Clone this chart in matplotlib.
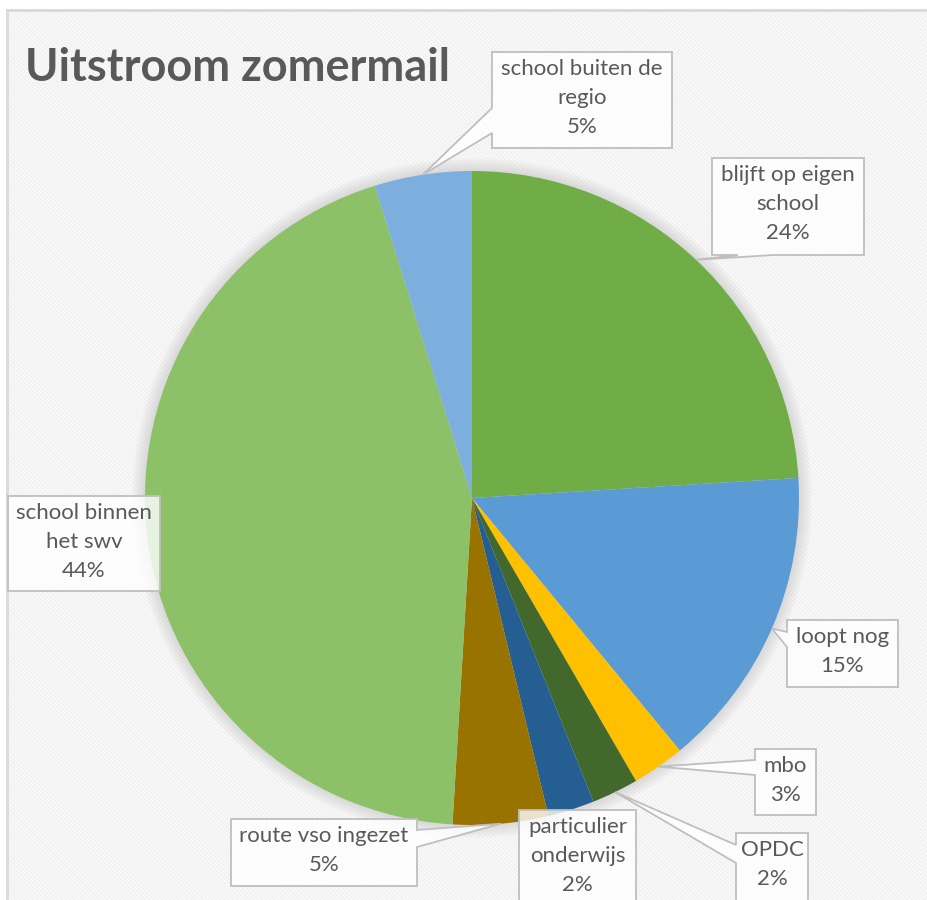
import matplotlib
matplotlib.use("Agg")
import matplotlib.pyplot as plt
from matplotlib.patches import Rectangle, Polygon, Circle
import numpy as np

plt.rcParams['font.family'] = ['Lato', 'DejaVu Sans']
plt.rcParams['hatch.linewidth'] = 1.5

W, H = 927, 900

title = "Uitstroom zomermail"
labels = ['blijft op eigen\nschool', 'loopt nog', 'mbo', 'OPDC',
          'particulier\nonderwijs', 'route vso ingezet',
          'school binnen\nhet swv', 'school buiten de\nregio']
shares = [24.0, 15.0, 2.6, 2.3, 2.3, 4.7, 44.2, 4.8]
colors = ['#70AD47', '#5B9BD5', '#FFC000', '#43682B',
          '#255E91', '#997300', '#8CC168', '#7CAFDD']

# label boxes in image pixels (x0, y0, x1, y1), pointer side, pointer base span
boxes = [
    ((712, 158, 864, 255), 'bottom', (738, 773)),
    ((787, 620, 898, 687), 'left', (632, 647)),
    ((755, 749, 816, 815), 'left', (760, 775)),
    ((736, 833, 808, 910), 'left', (845, 863)),
    ((519, 810, 636, 910), None, None),
    ((231, 819, 417, 886), 'right', (830, 847)),
    ((8, 496, 160, 591), None, None),
    ((492, 52, 672, 148), 'left', (108, 133)),
]

cx, cy, r = 472, 900 - 498, 327


def Y(y):
    return H - y


fig = plt.figure(figsize=(W / 100, H / 100), dpi=100)
ax = fig.add_axes([0, 0, 1, 1])

# hatched chart area
bg = Rectangle((8, -20), W + 20, Y(11) + 20, facecolor='white', edgecolor='#f1f1f1',
               linewidth=0, hatch='\\' * 8, zorder=0)
ax.add_patch(bg)
ax.plot([7, 7], [0, Y(10)], color='#d9d9d9', lw=2, zorder=1)
ax.plot([7, W], [Y(10), Y(10)], color='#d9d9d9', lw=2, zorder=1)

# soft shadow around pie
for k in range(1, 14):
    ax.add_patch(Circle((cx, cy), r + k, facecolor='#9a9a9a', edgecolor='none',
                        alpha=0.025, zorder=1))

wedges, _ = ax.pie(shares, colors=colors, startangle=90, counterclock=False,
                   center=(cx, cy), radius=r, frame=True,
                   wedgeprops=dict(linewidth=0, zorder=2))

total = sum(shares)
for w, lab, val, (bx, side, base) in zip(wedges, labels, shares, boxes):
    x0, y0, x1, y1 = bx
    ang = np.deg2rad((w.theta1 + w.theta2) / 2)
    tip = (cx + r * np.cos(ang), cy + r * np.sin(ang))
    pts = [(x0, Y(y0)), (x1, Y(y0))]
    if side == 'right':
        pts += [(x1, Y(base[0])), tip, (x1, Y(base[1]))]
    pts += [(x1, Y(y1))]
    if side == 'bottom':
        pts += [(base[1], Y(y1)), tip, (base[0], Y(y1))]
    pts += [(x0, Y(y1))]
    if side == 'left':
        pts += [(x0, Y(base[1])), tip, (x0, Y(base[0]))]
    ax.add_patch(Polygon(pts, closed=True, facecolor=(1, 1, 1, 0.8),
                         edgecolor='#bfbfbf', linewidth=1.3, zorder=3))
    pct = round(val / total * 100)
    ax.text((x0 + x1) / 2, Y(y0 + 7), f"{lab}\n{pct}%", ha='center', va='top',
            fontsize=16, color='#595959', linespacing=1.55, zorder=4)

ax.text(25, Y(81), title, ha='left', va='baseline', fontsize=32.5,
        fontweight='bold', color='#595959', zorder=4)

ax.set_xlim(0, W)
ax.set_ylim(0, H)
ax.set_aspect('auto')
ax.axis('off')

fig.savefig('out.png', dpi=100)
